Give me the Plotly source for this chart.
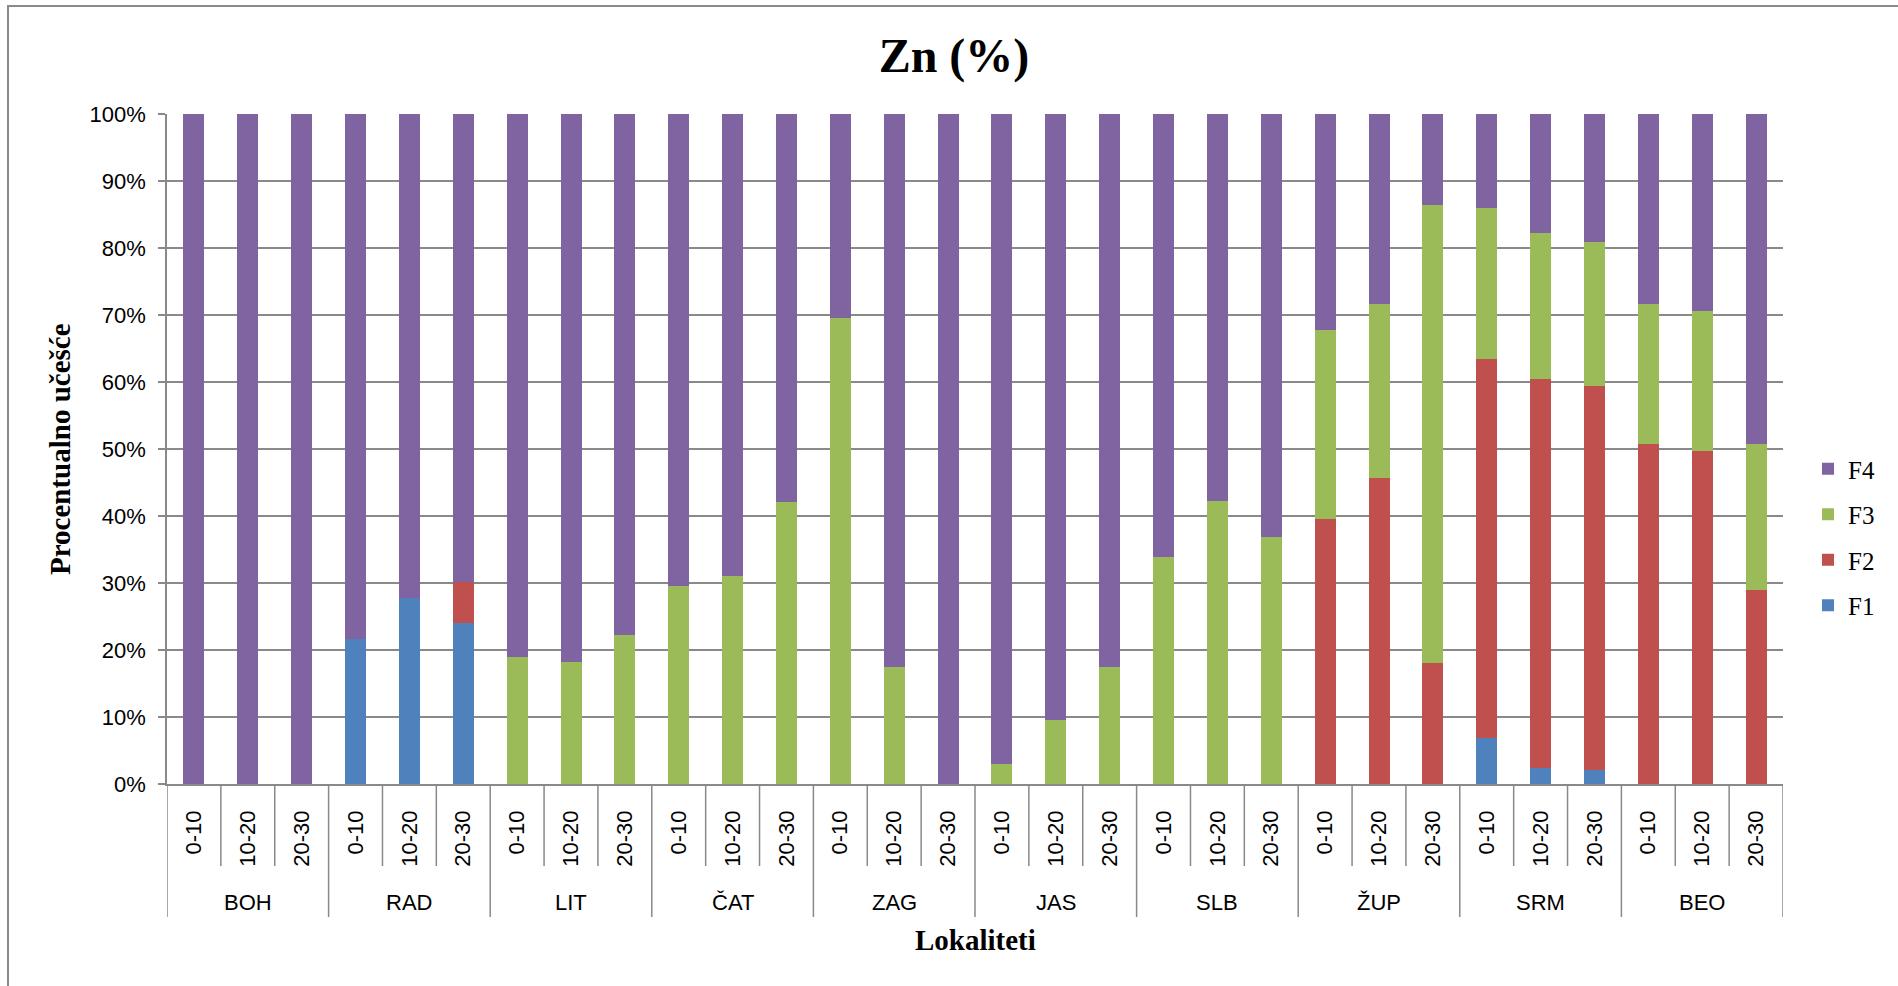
import plotly.graph_objects as go

# Sampling sites and depth intervals (cm)
sites = ["BOH", "RAD", "LIT", "ČAT", "ZAG", "JAS", "SLB", "ŽUP", "SRM", "BEO"]
depths = ["0-10", "10-20", "20-30"]

# Share of Zn in each fraction (%), three depths per site in site order
f1 = [0, 0, 0,   21.6, 27.8, 24.1,   0, 0, 0,   0, 0, 0,   0, 0, 0,
      0, 0, 0,   0, 0, 0,   0, 0, 0,   6.9, 2.4, 2.1,   0, 0, 0]
f2 = [0, 0, 0,   0, 0, 6.0,   0, 0, 0,   0, 0, 0,   0, 0, 0,
      0, 0, 0,   0, 0, 0,   39.5, 45.7, 18.0,   56.5, 58.1, 57.3,   50.8, 49.7, 29.0]
f3 = [0, 0, 0,   0, 0, 0,   18.9, 18.2, 22.2,   29.6, 31.0, 42.1,   69.5, 17.4, 0,
      3.0, 9.5, 17.5,   33.9, 42.3, 36.9,   28.3, 26.0, 68.4,   22.5, 21.7, 21.5,   20.9, 20.9, 21.8]
f4 = [100, 100, 100,   78.4, 72.2, 69.9,   81.1, 81.8, 77.8,   70.4, 69.0, 57.9,   30.5, 82.6, 100,
      97.0, 90.5, 82.5,   66.1, 57.7, 63.1,   32.2, 28.3, 13.6,   14.1, 17.8, 19.1,   28.3, 29.4, 49.2]

series = [("F1", f1, "#4F81BD"), ("F2", f2, "#C0504D"),
          ("F3", f3, "#9BBB59"), ("F4", f4, "#8064A2")]

n_bars = len(sites) * len(depths)
pos = list(range(n_bars))
depth_labels = [d for _ in sites for d in depths]

GRID = "#898989"
SANS = "Liberation Sans, Arial, sans-serif"
SERIF = "Liberation Serif, Times New Roman, serif"

fig = go.Figure()
for k, (name, vals, color) in enumerate(series):
    fig.add_trace(go.Bar(
        x=pos, y=vals, name=name, legendgroup=name,
        legendrank=1000 - k,  # top fraction listed first in the legend
        marker=dict(color=color, line=dict(width=0)),
    ))

# Plot area geometry in pixels (used to convert to paper units)
W, H = 1898, 986
ML, MR, MT, MB = 167, 115, 114, 202
PW, PH = W - ML - MR, H - MT - MB


def py(px_y):
    """Pixel y (from top) -> paper y."""
    return (H - MB - px_y) / PH


def px(px_x):
    """Pixel x (from left) -> paper x."""
    return (px_x - ML) / PW


shapes = []
# Dividers below the category axis: short ones between depths, long ones between sites
for b in range(n_bars + 1):
    long_div = b % len(depths) == 0
    shapes.append(dict(
        type="line", xref="x", yref="paper",
        x0=b - 0.5, x1=b - 0.5, y0=0, y1=py(917) if long_div else py(866),
        line=dict(color=GRID, width=1.5),
    ))
# Chart frame
shapes.append(dict(
    type="rect", xref="paper", yref="paper",
    x0=px(8), x1=px(2100), y0=py(1100), y1=py(6),
    line=dict(color="#8a8a8a", width=2), fillcolor="rgba(0,0,0,0)", layer="below",
))

annotations = []
for g, site in enumerate(sites):
    annotations.append(dict(
        x=g * len(depths) + 1, y=py(902), xref="x", yref="paper",
        text=site, showarrow=False, xanchor="center", yanchor="middle",
        font=dict(family=SANS, size=22, color="#000000"),
    ))
annotations.append(dict(
    x=0.5, y=py(940), xref="paper", yref="paper", text="<b>Lokaliteti</b>",
    showarrow=False, xanchor="center", yanchor="middle",
    font=dict(family=SERIF, size=29, color="#000000"),
))
annotations.append(dict(
    x=px(60), y=0.5, xref="paper", yref="paper", text="<b>Procentualno učešće</b>",
    showarrow=False, xanchor="center", yanchor="middle", textangle=-90,
    font=dict(family=SERIF, size=29, color="#000000"),
))

fig.update_layout(
    width=W, height=H,
    margin=dict(l=ML, r=MR, t=MT, b=MB, pad=0),
    paper_bgcolor="white", plot_bgcolor="white",
    barmode="stack", bargap=0.61,
    title=dict(
        text="<b>Zn (%)</b>", x=954 / W, xref="container", xanchor="center",
        y=1 - 55 / H, yref="container", yanchor="middle",
        font=dict(family=SERIF, size=48, color="#000000"),
    ),
    xaxis=dict(
        range=[-0.5, n_bars - 0.5],
        tickmode="array", tickvals=pos, ticktext=depth_labels,
        tickangle=-90, ticks="", ticklabelstandoff=16,
        tickfont=dict(family=SANS, size=22, color="#000000"),
        showgrid=False, zeroline=False,
        showline=True, linecolor=GRID, linewidth=1.5,
    ),
    yaxis=dict(
        range=[0, 100], dtick=10, ticksuffix="%",
        ticks="outside", ticklen=7, tickcolor=GRID, tickwidth=1.5,
        ticklabelstandoff=8,
        tickfont=dict(family=SANS, size=22, color="#000000"),
        showgrid=True, gridcolor=GRID, gridwidth=1.5,
        zeroline=False, showline=True, linecolor=GRID, linewidth=1.5,
    ),
    legend=dict(
        x=px(1808), y=py(537), xanchor="left", yanchor="middle",
        traceorder="grouped", tracegroupgap=10,
        font=dict(family=SERIF, size=25, color="#000000"),
        bgcolor="rgba(0,0,0,0)",
    ),
    shapes=shapes,
    annotations=annotations,
    showlegend=True,
)

fig.write_html("out.html")
